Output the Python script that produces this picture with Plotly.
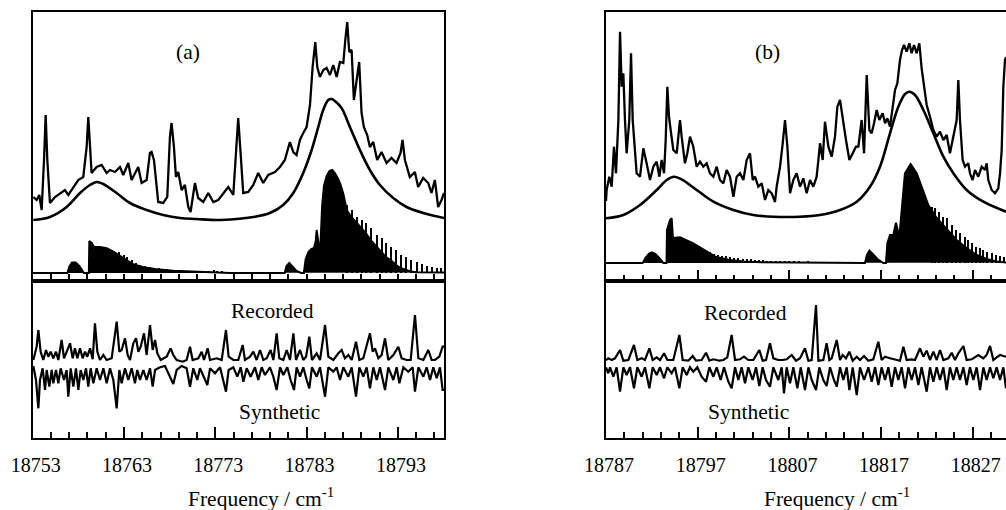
import plotly.graph_objects as go

# ---------------- data ----------------
# frequency windows (cm-1)
RANGE_A = [18753, 18798.05]
RANGE_B = [18787, 18830.62]
TICK0_A = 18753
TICK0_B = 18787

# baselines of the calculated stick spectra (arb. intensity units of upper panels)
CALC_BASE_A = 8
CALC_BASE_B = 18

# ---- panel (a), upper: recorded spectrum (freq, intensity)
rec_top_a = [
    (18753.07, 84), (18753.43, 81), (18753.72, 86), (18753.98, 71), (18754.24, 121), (18754.42, 166),
    (18754.60, 121), (18754.89, 78), (18755.44, 84), (18755.99, 88), (18756.53, 91), (18756.90, 86),
    (18757.45, 94), (18757.99, 101), (18758.54, 104), (18758.91, 134), (18759.09, 164), (18759.27, 134),
    (18759.45, 108), (18760.00, 114), (18760.55, 116), (18761.10, 108), (18761.46, 111), (18762.01, 109),
    (18762.56, 114), (18762.92, 106), (18763.47, 118), (18763.83, 101), (18764.56, 114), (18764.93, 98),
    (18765.48, 101), (18765.84, 128), (18766.02, 129), (18766.28, 121), (18766.75, 79), (18767.30, 78),
    (18767.74, 84), (18768.03, 144), (18768.21, 158), (18768.47, 134), (18768.69, 104), (18768.94, 109),
    (18769.31, 91), (18769.67, 96), (18770.04, 74), (18770.29, 69), (18770.77, 98), (18771.13, 83),
    (18771.68, 79), (18772.23, 88), (18772.78, 79), (18773.32, 81), (18773.87, 88), (18774.42, 94),
    (18774.97, 86), (18775.26, 128), (18775.51, 163), (18775.77, 128), (18776.06, 88), (18776.61, 89),
    (18777.16, 96), (18777.70, 108), (18778.25, 98), (18778.80, 106), (18779.53, 109), (18780.08, 114),
    (18780.62, 121), (18781.17, 139), (18781.54, 129), (18781.90, 126), (18782.27, 141), (18782.63, 148),
    (18783.00, 154), (18783.37, 176), (18783.66, 214), (18783.95, 239), (18784.17, 214), (18784.46, 204),
    (18784.83, 211), (18785.19, 213), (18785.56, 206), (18785.92, 216), (18786.29, 204), (18786.65, 219),
    (18787.02, 218), (18787.24, 241), (18787.45, 259), (18787.67, 229), (18787.93, 231), (18788.18, 181),
    (18788.47, 198), (18788.76, 219), (18789.02, 168), (18789.27, 154), (18789.64, 146), (18789.93, 134),
    (18790.30, 139), (18790.73, 121), (18791.21, 129), (18791.76, 118), (18792.30, 123), (18792.85, 118),
    (18793.29, 128), (18793.51, 141), (18793.77, 121), (18794.31, 104), (18794.86, 109), (18795.22, 94),
    (18795.77, 103), (18796.32, 98), (18796.68, 88), (18797.05, 101), (18797.41, 74), (18797.78, 81),
    (18798.05, 88),
]

# ---- panel (a), upper: broadened (Lorentzian) envelope
lor_a = [
    (18753.07, 61), (18754.89, 64), (18756.72, 74), (18758.18, 88), (18759.27, 96), (18760.00, 99),
    (18760.73, 97), (18762.19, 88), (18763.65, 78), (18765.48, 71), (18767.30, 66), (18769.13, 63),
    (18770.95, 62), (18773.14, 61), (18775.33, 62), (18777.16, 64), (18778.98, 68), (18780.44, 76),
    (18781.54, 88), (18782.63, 108), (18783.55, 131), (18784.28, 154), (18784.82, 171), (18785.37, 181),
    (18785.74, 182), (18786.10, 180), (18786.83, 173), (18787.74, 154), (18788.84, 131), (18789.93, 111),
    (18791.03, 96), (18792.49, 83), (18793.95, 74), (18795.77, 68), (18798.05, 63),
]

# ---- panel (a), upper: calculated stick spectrum (body profile and stick tips)
calc_a = [
    (18753.0, 8), (18756.8, 8), (18757.0, 14), (18757.3, 18.5), (18757.7, 18.5), (18758.1, 15),
    (18758.4, 11), (18758.6, 8), (18759.15, 8), (18759.2, 40), (18759.46, 38), (18759.71, 34),
    (18760.37, 34), (18761.1, 32.7), (18761.83, 29.3), (18762.56, 25), (18763.29, 20.3), (18764.02, 16.7),
    (18765.12, 13.7), (18766.58, 11.7), (18768.4, 10.3), (18770.96, 9.3), (18773.15, 8.7), (18774.61, 8),
    (18780.6, 8), (18780.8, 15), (18781.1, 18), (18781.4, 15), (18781.9, 10), (18782.4, 8),
    (18782.7, 8), (18782.9, 22), (18783.2, 29), (18783.5, 32), (18783.8, 33), (18784.0, 40),
    (18784.1, 51), (18784.3, 38), (18784.5, 33), (18784.7, 75), (18784.9, 95), (18785.2, 105),
    (18785.5, 110), (18785.8, 111), (18786.1, 108), (18786.4, 103), (18786.7, 97), (18787.0, 88),
    (18787.4, 71), (18787.9, 64), (18788.5, 58), (18789.0, 53), (18789.5, 48), (18790.0, 41),
    (18790.7, 34), (18791.2, 29), (18791.7, 24), (18792.2, 21), (18792.8, 16), (18793.3, 13),
    (18793.9, 11), (18794.4, 9.5), (18795.0, 8.7), (18798.05, 8.5),
]
sticks_a = [
    (18762.38, 29.3), (18762.93, 26), (18763.29, 23.7), (18763.84, 21), (18764.31, 18.3), (18764.75, 16),
    (18765.30, 14.8), (18765.85, 13.8), (18766.29, 13.2), (18766.76, 12.9), (18767.24, 12.3), (18767.67, 11.9),
    (18768.11, 11.3), (18768.59, 11.1), (18769.06, 11), (18769.50, 10.5), (18769.97, 10.4), (18770.41, 10.1),
    (18770.89, 10), (18771.33, 9.8), (18771.80, 9.5), (18772.24, 9.4), (18772.78, 11), (18773.15, 9.2),
    (18773.70, 9.1), (18774.25, 9),
    (18787.39, 76), (18787.94, 71), (18788.48, 64.3), (18789.03, 61), (18789.51, 57.7), (18790.02, 52.7),
    (18790.67, 46), (18791.22, 42.7), (18791.70, 37.7), (18792.21, 34.3), (18792.76, 31), (18793.30, 26),
    (18793.89, 24.3), (18794.43, 21), (18795.06, 19.3), (18795.60, 17), (18796.15, 15), (18796.70, 13.7),
    (18797.25, 12.7), (18797.69, 12.7),
]

# ---- panel (a), lower: recorded and synthetic traces
rec_low_a = [
    (18753.07, 78), (18753.43, 91.3), (18753.62, 108), (18753.87, 86.3), (18754.16, 78), (18754.46, 88),
    (18754.71, 81.3), (18754.97, 86.3), (18755.26, 79.7), (18755.55, 86.3), (18755.81, 78), (18756.17, 98),
    (18756.43, 79.7), (18756.72, 86.3), (18757.09, 94.7), (18757.38, 79.7), (18757.63, 89.7), (18757.89, 79.7),
    (18758.18, 89.7), (18758.47, 79.7), (18758.73, 86.3), (18758.98, 81.3), (18759.28, 89.7), (18759.57, 78.7),
    (18759.82, 114.7), (18760.08, 86.3), (18760.37, 78), (18760.74, 83), (18761.10, 78), (18761.65, 79.7),
    (18762.20, 116.3), (18762.49, 86.3), (18762.74, 88), (18763.11, 99.7), (18763.40, 83), (18763.66, 78),
    (18764.02, 94.7), (18764.32, 99.7), (18764.57, 86.3), (18764.83, 91.3), (18765.19, 104.7), (18765.48, 83),
    (18765.85, 113), (18766.14, 88), (18766.40, 98), (18766.65, 84.7), (18767.02, 78), (18767.67, 81.3),
    (18768.11, 89.7), (18768.40, 83), (18768.77, 78), (18769.43, 76.3), (18769.86, 78), (18770.23, 91.3),
    (18770.52, 78), (18771.14, 79.7), (18771.51, 86.3), (18771.76, 78), (18772.16, 89.7), (18772.42, 78),
    (18773.15, 79.7), (18773.70, 78), (18774.17, 108), (18774.46, 81.3), (18774.98, 78), (18775.52, 78),
    (18776.00, 93), (18776.25, 78), (18776.80, 81.3), (18777.17, 86.3), (18777.53, 78), (18777.90, 88),
    (18778.26, 78), (18778.63, 79.7), (18779.06, 88), (18779.36, 78), (18779.72, 104.7), (18780.01, 79.7),
    (18780.45, 78), (18780.82, 88), (18781.18, 78), (18781.55, 104.7), (18781.84, 78), (18782.28, 88),
    (18782.64, 78), (18782.94, 81.3), (18783.30, 101.3), (18783.59, 78), (18784.10, 84.7), (18784.47, 78),
    (18785.02, 113), (18785.38, 81.3), (18785.93, 78), (18786.48, 84.7), (18786.84, 88), (18787.20, 79.7),
    (18787.57, 83), (18787.94, 78), (18788.41, 96.3), (18788.78, 78), (18789.21, 79.7), (18789.94, 104.7),
    (18790.24, 86.3), (18790.49, 89.7), (18790.86, 79.7), (18791.22, 83), (18791.59, 99.7), (18791.95, 78),
    (18792.50, 83), (18793.05, 91.3), (18793.41, 79.7), (18793.96, 78), (18794.40, 78), (18794.87, 123),
    (18795.24, 79.7), (18795.79, 78), (18796.33, 88), (18796.70, 78), (18797.06, 78), (18797.54, 81.3),
    (18797.90, 91.3), (18798.05, 91.3),
]
syn_low_a = [
    (18753.07, 72), (18753.36, 58), (18753.51, 41.3), (18753.62, 29.7), (18753.80, 58), (18754.09, 69.7),
    (18754.35, 48), (18754.53, 68), (18754.82, 51.3), (18755.08, 68), (18755.26, 54.7), (18755.55, 68),
    (18755.81, 54.7), (18756.06, 69.7), (18756.43, 58), (18756.72, 68), (18756.90, 41.3), (18757.16, 69.7),
    (18757.45, 51.3), (18757.74, 69.7), (18758.00, 48), (18758.25, 68), (18758.55, 58), (18758.84, 69.7),
    (18759.09, 51.3), (18759.35, 69.7), (18759.64, 54.7), (18760.01, 69.7), (18760.37, 58), (18760.74, 69.7),
    (18761.10, 54.7), (18761.47, 69.7), (18761.83, 58), (18762.20, 29.7), (18762.49, 68), (18762.74, 54.7),
    (18763.11, 69.7), (18763.47, 58), (18763.84, 69.7), (18764.20, 54.7), (18764.46, 68), (18764.75, 58),
    (18765.12, 68), (18765.48, 58), (18765.85, 69.7), (18766.14, 51.3), (18766.40, 68), (18766.94, 70.7),
    (18767.49, 72), (18768.04, 61.3), (18768.40, 54), (18768.77, 68), (18769.32, 72), (18769.86, 69.7),
    (18770.23, 51.3), (18770.59, 69.7), (18771.03, 58), (18771.32, 69.7), (18771.69, 61.3), (18772.13, 53),
    (18772.42, 69.7), (18772.97, 64.7), (18773.52, 70.7), (18773.88, 58), (18774.17, 46.3), (18774.46, 68),
    (18774.98, 70.7), (18775.41, 61.3), (18775.78, 70.7), (18776.07, 56.3), (18776.44, 69.7), (18776.87, 61.3),
    (18777.35, 70.7), (18777.71, 58), (18778.08, 70.7), (18778.44, 63), (18778.99, 70.7), (18779.36, 61.3),
    (18779.72, 48), (18780.09, 70.7), (18780.45, 63), (18780.89, 70.7), (18781.25, 58), (18781.62, 48),
    (18781.91, 70.7), (18782.28, 61.3), (18782.64, 70.7), (18783.01, 58), (18783.30, 49.7), (18783.59, 70.7),
    (18784.10, 61.3), (18784.47, 70.7), (18784.76, 54.7), (18785.02, 41.3), (18785.38, 70.7), (18785.93, 66.3),
    (18786.29, 70.7), (18786.66, 58), (18787.02, 70.7), (18787.57, 61.3), (18787.94, 70.7), (18788.41, 41.3),
    (18788.78, 70.7), (18789.21, 61.3), (18789.58, 70.7), (18789.94, 49.7), (18790.31, 70.7), (18790.68, 58),
    (18791.04, 70.7), (18791.59, 48), (18791.95, 70.7), (18792.50, 58), (18792.87, 70.7), (18793.16, 54.7),
    (18793.60, 70.7), (18794.14, 66.3), (18794.62, 70.7), (18794.87, 46.3), (18795.24, 70.7), (18795.79, 61.3),
    (18796.15, 70.7), (18796.52, 58), (18796.88, 70.7), (18797.25, 59.7), (18797.61, 70.7), (18797.90, 48),
    (18798.05, 48),
]

# ---- panel (b), upper: recorded spectrum
rec_top_b = [
    (18787.0, 80), (18787.07, 91), (18787.36, 104.3), (18787.62, 94.3), (18787.87, 134.3), (18788.09, 107.7),
    (18788.35, 161), (18788.53, 249.3), (18788.71, 194.3), (18788.89, 207.7), (18789.07, 161), (18789.25, 127.7),
    (18789.54, 161), (18789.73, 227.7), (18789.91, 161), (18790.09, 134.3), (18790.34, 107.7), (18790.71, 104.3),
    (18791.07, 132.7), (18791.43, 117.7), (18791.80, 101), (18792.16, 114.3), (18792.53, 119.3), (18792.82, 104.3),
    (18793.07, 121), (18793.33, 107.7), (18793.51, 141), (18793.69, 194.3), (18793.87, 164.3), (18794.05, 151),
    (18794.34, 131), (18794.71, 127.7), (18795.07, 161), (18795.25, 144.3), (18795.61, 117.7), (18795.87, 127.7),
    (18796.16, 144.3), (18796.52, 134.3), (18796.89, 114.3), (18797.25, 119.3), (18797.61, 114.3), (18797.98, 117.7),
    (18798.34, 107.7), (18798.71, 104.3), (18799.07, 114.3), (18799.43, 101), (18799.80, 97.7), (18800.16, 111),
    (18800.52, 104.3), (18800.89, 84.3), (18801.25, 104.3), (18801.61, 107.7), (18801.98, 101), (18802.34, 121),
    (18802.70, 127.7), (18803.00, 101), (18803.25, 104.3), (18803.61, 94.3), (18803.98, 97.7), (18804.34, 81),
    (18804.70, 91), (18805.07, 87.7), (18805.43, 79), (18805.61, 94.3), (18805.98, 114.3), (18806.27, 137.7),
    (18806.52, 161), (18806.78, 134.3), (18807.07, 87.7), (18807.43, 101), (18807.79, 107.7), (18808.16, 94.3),
    (18808.52, 102.7), (18808.88, 87.7), (18809.25, 101), (18809.61, 94.3), (18809.97, 104.3), (18810.16, 121),
    (18810.34, 137.7), (18810.63, 121), (18810.88, 159.3), (18811.25, 134.3), (18811.61, 124.3), (18811.97, 144.3),
    (18812.23, 174.3), (18812.52, 181), (18812.81, 161), (18813.17, 141), (18813.54, 121), (18813.90, 127.7),
    (18814.26, 134.3), (18814.52, 134.3), (18814.88, 161), (18815.14, 127.7), (18815.43, 206), (18815.72, 151),
    (18815.97, 147.7), (18816.23, 157.7), (18816.52, 171), (18816.81, 161), (18817.17, 167.7), (18817.43, 157.7),
    (18817.68, 162.7), (18817.97, 154.3), (18818.26, 174.3), (18818.52, 191), (18818.77, 197.7), (18819.06, 221),
    (18819.28, 231), (18819.50, 236), (18819.79, 229.3), (18820.08, 237.7), (18820.33, 227.7), (18820.59, 236),
    (18820.88, 227.7), (18821.17, 237.7), (18821.42, 212.7), (18821.68, 194.3), (18821.97, 176), (18822.33, 164.3),
    (18822.70, 151), (18823.06, 144.3), (18823.42, 149.3), (18823.79, 141), (18824.15, 146), (18824.51, 127.7),
    (18824.88, 144.3), (18825.24, 161), (18825.42, 201), (18825.60, 161), (18825.89, 121), (18826.15, 114.3),
    (18826.51, 117.7), (18826.69, 107.7), (18826.98, 101), (18827.24, 111), (18827.60, 104.3), (18827.97, 114.3),
    (18828.33, 111), (18828.51, 117.7), (18828.69, 101), (18829.06, 91), (18829.42, 87.7), (18829.78, 92.7),
    (18829.97, 107.7), (18830.15, 131), (18830.33, 194.3), (18830.51, 221), (18830.62, 224),
]

lor_b = [
    (18787.0, 62.7), (18788.89, 66), (18790.71, 76), (18792.53, 91), (18793.62, 101), (18794.42, 104.3),
    (18795.25, 101.7), (18796.89, 91), (18798.71, 79.3), (18800.89, 71), (18803.07, 66), (18805.25, 64.3),
    (18808.16, 64.3), (18810.34, 66), (18812.52, 71), (18814.34, 79.3), (18815.79, 94.3), (18816.88, 114.3),
    (18817.97, 147.7), (18818.88, 174.3), (18819.61, 187), (18820.08, 189.3), (18820.70, 186), (18821.61, 171),
    (18822.70, 147.7), (18823.79, 124.3), (18824.88, 107.7), (18826.33, 91), (18828.15, 79.3), (18830.62, 69.3),
]

calc_b = [
    (18787.0, 18), (18791.0, 18), (18791.3, 23), (18791.7, 27.5), (18792.0, 28.7), (18792.4, 27),
    (18792.8, 23), (18793.25, 18), (18793.6, 18), (18793.65, 51), (18793.98, 61), (18794.16, 62.7),
    (18794.3, 43), (18795.07, 43.7), (18796.52, 37.7), (18797.98, 29.3), (18799.0, 24), (18800.5, 21),
    (18802.0, 19.5), (18804.0, 18.7), (18811.06, 18), (18815.24, 18), (18815.45, 26), (18815.72, 30.3),
    (18816.1, 27), (18816.6, 22), (18817.24, 18), (18817.53, 18), (18817.68, 37.7), (18817.97, 46),
    (18818.33, 46), (18818.62, 58.3), (18818.99, 44.3), (18819.24, 71), (18819.6, 107.7), (18820.22, 117),
    (18820.88, 107.7), (18821.42, 94.3), (18822.15, 76), (18823.06, 63), (18824.15, 52), (18825.24, 41),
    (18826.33, 33), (18827.42, 26), (18828.51, 22), (18829.6, 19.5), (18830.62, 18.5),
]
sticks_b = [
    (18798.3, 29), (18798.75, 27.5), (18799.2, 26.5), (18799.65, 25.5), (18800.1, 24.7), (18800.55, 24),
    (18801.0, 23.5), (18801.45, 23), (18801.9, 22.5), (18802.35, 22), (18802.8, 21.7), (18803.25, 21.3),
    (18803.7, 21), (18804.15, 20.7), (18804.6, 20.5), (18805.05, 20.3), (18805.5, 20), (18806.0, 20),
    (18806.5, 19.7), (18807.0, 19.5), (18807.5, 19.5), (18808.0, 19.3), (18809.0, 19.2), (18810.0, 19),
    (18811.0, 19),
    (18822.51, 74.3), (18822.88, 72.7), (18823.35, 69.3), (18823.79, 64.3), (18824.15, 62.7), (18824.69, 56),
    (18825.17, 51), (18825.60, 47.7), (18826.15, 44.3), (18826.51, 41), (18826.88, 37.7), (18827.35, 34.3),
    (18827.78, 32.7), (18828.15, 31), (18828.58, 29.3), (18829.06, 27.7), (18829.49, 26), (18829.97, 25),
    (18830.40, 24.3),
]

rec_low_b = [
    (18787.0, 78), (18787.25, 79.7), (18787.62, 78), (18787.98, 79.7), (18788.53, 88), (18788.89, 77.3),
    (18789.44, 78), (18790.05, 93), (18790.42, 78), (18790.89, 79.7), (18791.25, 78), (18791.73, 89.7),
    (18792.09, 78), (18792.53, 80.7), (18792.89, 78), (18793.33, 84.7), (18793.69, 78), (18794.34, 78),
    (18795.00, 103), (18795.36, 78), (18795.98, 77.3), (18796.45, 82), (18796.81, 77.3), (18797.43, 78),
    (18797.91, 85.3), (18798.27, 77.3), (18798.71, 78.7), (18799.36, 77.3), (18799.80, 78), (18800.23, 80.7),
    (18800.70, 103), (18801.07, 78), (18801.61, 78.7), (18802.05, 81.3), (18802.52, 78), (18803.07, 78),
    (18803.72, 88), (18804.08, 77.3), (18804.45, 78), (18804.88, 94.7), (18805.25, 79.7), (18805.79, 78),
    (18806.27, 78), (18806.70, 78.7), (18807.25, 83), (18807.72, 77.3), (18808.16, 79.7), (18808.70, 89.7),
    (18809.07, 77.3), (18809.43, 78), (18809.90, 133), (18810.16, 77.3), (18810.70, 78), (18811.06, 94.7),
    (18811.36, 78), (18811.61, 79.7), (18812.16, 98), (18812.52, 78), (18812.81, 83), (18813.17, 79.7),
    (18813.54, 86.3), (18813.90, 77.3), (18814.34, 81.3), (18814.70, 78), (18815.14, 82), (18815.61, 77.3),
    (18816.15, 78.7), (18816.70, 96.3), (18817.06, 78), (18817.43, 81.3), (18817.97, 79.7), (18818.33, 78.7),
    (18818.70, 78), (18819.06, 77.3), (18819.43, 91.3), (18819.79, 78), (18820.33, 78.7), (18820.70, 78),
    (18821.24, 89.7), (18821.61, 81.3), (18821.97, 87.3), (18822.33, 78), (18822.70, 86.3), (18823.06, 78),
    (18823.42, 88), (18823.79, 78), (18824.33, 79.7), (18824.70, 85.3), (18825.06, 78), (18825.42, 84.7),
    (18825.97, 92), (18826.33, 78), (18826.88, 78.7), (18827.24, 81.3), (18827.60, 83), (18828.15, 79.7),
    (18828.51, 83), (18828.88, 92), (18829.24, 78), (18829.60, 80.7), (18829.97, 83), (18830.33, 82),
    (18830.62, 81.3),
]
syn_low_b = [
    (18787.0, 70.7), (18787.25, 64.7), (18787.44, 70.7), (18787.80, 61.3), (18788.16, 70.7), (18788.53, 46.3),
    (18788.89, 70.7), (18789.25, 63), (18789.62, 70.7), (18790.05, 49.7), (18790.42, 70.7), (18790.89, 61.3),
    (18791.25, 70.7), (18791.73, 49.7), (18792.09, 70.7), (18792.53, 63), (18792.89, 70.7), (18793.33, 59.7),
    (18793.69, 70.7), (18794.16, 64.7), (18794.52, 70.7), (18795.00, 49.7), (18795.36, 70.7), (18795.80, 63),
    (18796.16, 70.7), (18796.52, 66.3), (18796.96, 70.7), (18797.43, 61.3), (18797.91, 56.3), (18798.27, 70.7),
    (18798.71, 61.3), (18799.07, 70.7), (18799.50, 58), (18799.87, 70.7), (18800.34, 56.3), (18800.70, 49.7),
    (18801.07, 70.7), (18801.43, 58), (18801.79, 70.7), (18802.16, 54.7), (18802.52, 70.7), (18802.99, 58),
    (18803.36, 70.7), (18803.72, 52), (18804.08, 70.7), (18804.45, 58), (18804.88, 51.3), (18805.25, 70.7),
    (18805.79, 58), (18806.16, 70.7), (18806.41, 44.7), (18806.70, 70.7), (18807.07, 54.7), (18807.43, 70.7),
    (18807.87, 49.7), (18808.23, 70.7), (18808.70, 48), (18809.07, 70.7), (18809.43, 58), (18809.90, 48),
    (18810.26, 70.7), (18810.70, 58), (18811.06, 52), (18811.43, 70.7), (18811.86, 58), (18812.16, 51.3),
    (18812.52, 70.7), (18812.88, 58), (18813.25, 70.7), (18813.54, 48), (18813.90, 70.7), (18814.34, 43),
    (18814.70, 70.7), (18815.14, 58), (18815.61, 70.7), (18815.97, 56.3), (18816.34, 70.7), (18816.70, 53),
    (18817.06, 70.7), (18817.43, 58), (18817.79, 70.7), (18818.15, 51.3), (18818.52, 70.7), (18818.88, 58),
    (18819.24, 70.7), (18819.61, 49.7), (18819.97, 70.7), (18820.33, 58), (18820.70, 70.7), (18821.06, 53),
    (18821.42, 70.7), (18821.97, 46.3), (18822.33, 70.7), (18822.70, 56.3), (18823.06, 70.7), (18823.42, 58),
    (18823.79, 70.7), (18824.15, 48), (18824.51, 70.7), (18824.88, 58), (18825.24, 70.7), (18825.60, 58),
    (18825.97, 70.7), (18826.33, 53), (18826.69, 70.7), (18827.06, 58), (18827.42, 70.7), (18827.79, 48),
    (18828.15, 70.7), (18828.51, 58), (18828.88, 70.7), (18829.24, 59.7), (18829.60, 70.7), (18829.97, 58),
    (18830.33, 70.7), (18830.62, 49.7),
]

# ---------------- figure ----------------
W, H = 1006, 510
FONT = "Liberation Serif"
BLACK = "#000000"

fig = go.Figure()


def xs(pairs):
    return [p[0] for p in pairs]


def ys(pairs):
    return [p[1] for p in pairs]


def add_line(pairs, xa, ya, width=2.0, shape="linear"):
    fig.add_trace(go.Scatter(x=xs(pairs), y=ys(pairs), mode="lines", xaxis=xa, yaxis=ya,
                             line=dict(color=BLACK, width=width, shape=shape),
                             hoverinfo="skip", showlegend=False))


def add_calc(profile, sticks, base, xa, ya):
    fig.add_trace(go.Scatter(x=xs(profile), y=ys(profile), mode="lines", fill="toself",
                             fillcolor=BLACK, xaxis=xa, yaxis=ya,
                             line=dict(color=BLACK, width=2), hoverinfo="skip", showlegend=False))
    fig.add_trace(go.Bar(x=xs(sticks), y=[t - base for t in ys(sticks)], base=base, width=0.12,
                         xaxis=xa, yaxis=ya, marker=dict(color=BLACK, line=dict(width=0)),
                         hoverinfo="skip", showlegend=False))


# panel (a)
add_calc(calc_a, sticks_a, CALC_BASE_A, "x", "y")
add_line(lor_a, "x", "y", width=2.6, shape="spline")
add_line(rec_top_a, "x", "y", width=2.3)
add_line(rec_low_a, "x2", "y2", width=2.2)
add_line(syn_low_a, "x2", "y2", width=2.2)
# panel (b)
add_calc(calc_b, sticks_b, CALC_BASE_B, "x3", "y3")
add_line(lor_b, "x3", "y3", width=2.6, shape="spline")
add_line(rec_top_b, "x3", "y3", width=2.3)
add_line(rec_low_b, "x4", "y4", width=2.2)
add_line(syn_low_b, "x4", "y4", width=2.2)

# geometry (paper fractions)
AX_L, AX_R = 32.7 / W, 444 / W
BX_L, BX_R = 606 / W, 1.0
UP_D = [1 - 281 / H, 1 - 12 / H]
LO_D = [1 - 438 / H, 1 - 281 / H]

tickfont = dict(family=FONT, size=20, color=BLACK)


def xaxis(domain, rng, tick0, anchor, labels, major_len, minor_len):
    return dict(domain=domain, range=rng, anchor=anchor, showline=True, linecolor=BLACK, linewidth=2,
                mirror=True, ticks="inside", tick0=tick0, dtick=10, ticklen=major_len, tickwidth=1.6,
                tickcolor=BLACK, showticklabels=labels, tickfont=tickfont, tickformat="d",
                ticklabelstandoff=8, ticklabelshift=3, ticklabeloverflow="allow",
                minor=dict(ticks="inside", tick0=tick0, dtick=2, ticklen=minor_len, tickwidth=1.6,
                           tickcolor=BLACK, showgrid=False),
                showgrid=False, zeroline=False, automargin=False, fixedrange=True)


def yaxis(domain, rng, anchor, mirror):
    return dict(domain=domain, range=rng, anchor=anchor, showline=True, linecolor=BLACK, linewidth=2,
                mirror=mirror, ticks="", showticklabels=False, showgrid=False, zeroline=False,
                automargin=False, fixedrange=True)


fig.update_layout(
    width=W, height=H, margin=dict(l=0, r=0, t=0, b=0, pad=0),
    paper_bgcolor="white", plot_bgcolor="white", barmode="overlay", bargap=0,
    font=dict(family=FONT, color=BLACK, size=20), showlegend=False,
    xaxis=xaxis([AX_L, AX_R], RANGE_A, TICK0_A, "y", False, 7, 7),
    yaxis=yaxis(UP_D, [0, 269], "x", True),
    xaxis2=xaxis([AX_L, AX_R], RANGE_A, TICK0_A, "y2", True, 11, 6),
    yaxis2=yaxis(LO_D, [0, 157], "x2", True),
    xaxis3=xaxis([BX_L, BX_R], RANGE_B, TICK0_B, "y3", False, 11, 6),
    yaxis3=yaxis(UP_D, [0, 269], "x3", False),
    xaxis4=xaxis([BX_L, BX_R], RANGE_B, TICK0_B, "y4", True, 11, 6),
    yaxis4=yaxis(LO_D, [0, 157], "x4", False),
)

TXT = dict(family=FONT, size=21.5, color=BLACK)
labels = [
    ("(a)", 188, 52), ("(b)", 767, 52),
    ("Recorded", 272, 311), ("Synthetic", 279, 412),
    ("Recorded", 745, 313), ("Synthetic", 748, 412),
    ("Frequency / cm<sup>-1</sup>", 261, 497), ("Frequency / cm<sup>-1</sup>", 837, 497),
]
for text, px, py in labels:
    fig.add_annotation(text=text, x=px / W, y=1 - py / H, xref="paper", yref="paper",
                       xanchor="center", yanchor="middle", showarrow=False, font=TXT)

fig.write_html("out.html")
